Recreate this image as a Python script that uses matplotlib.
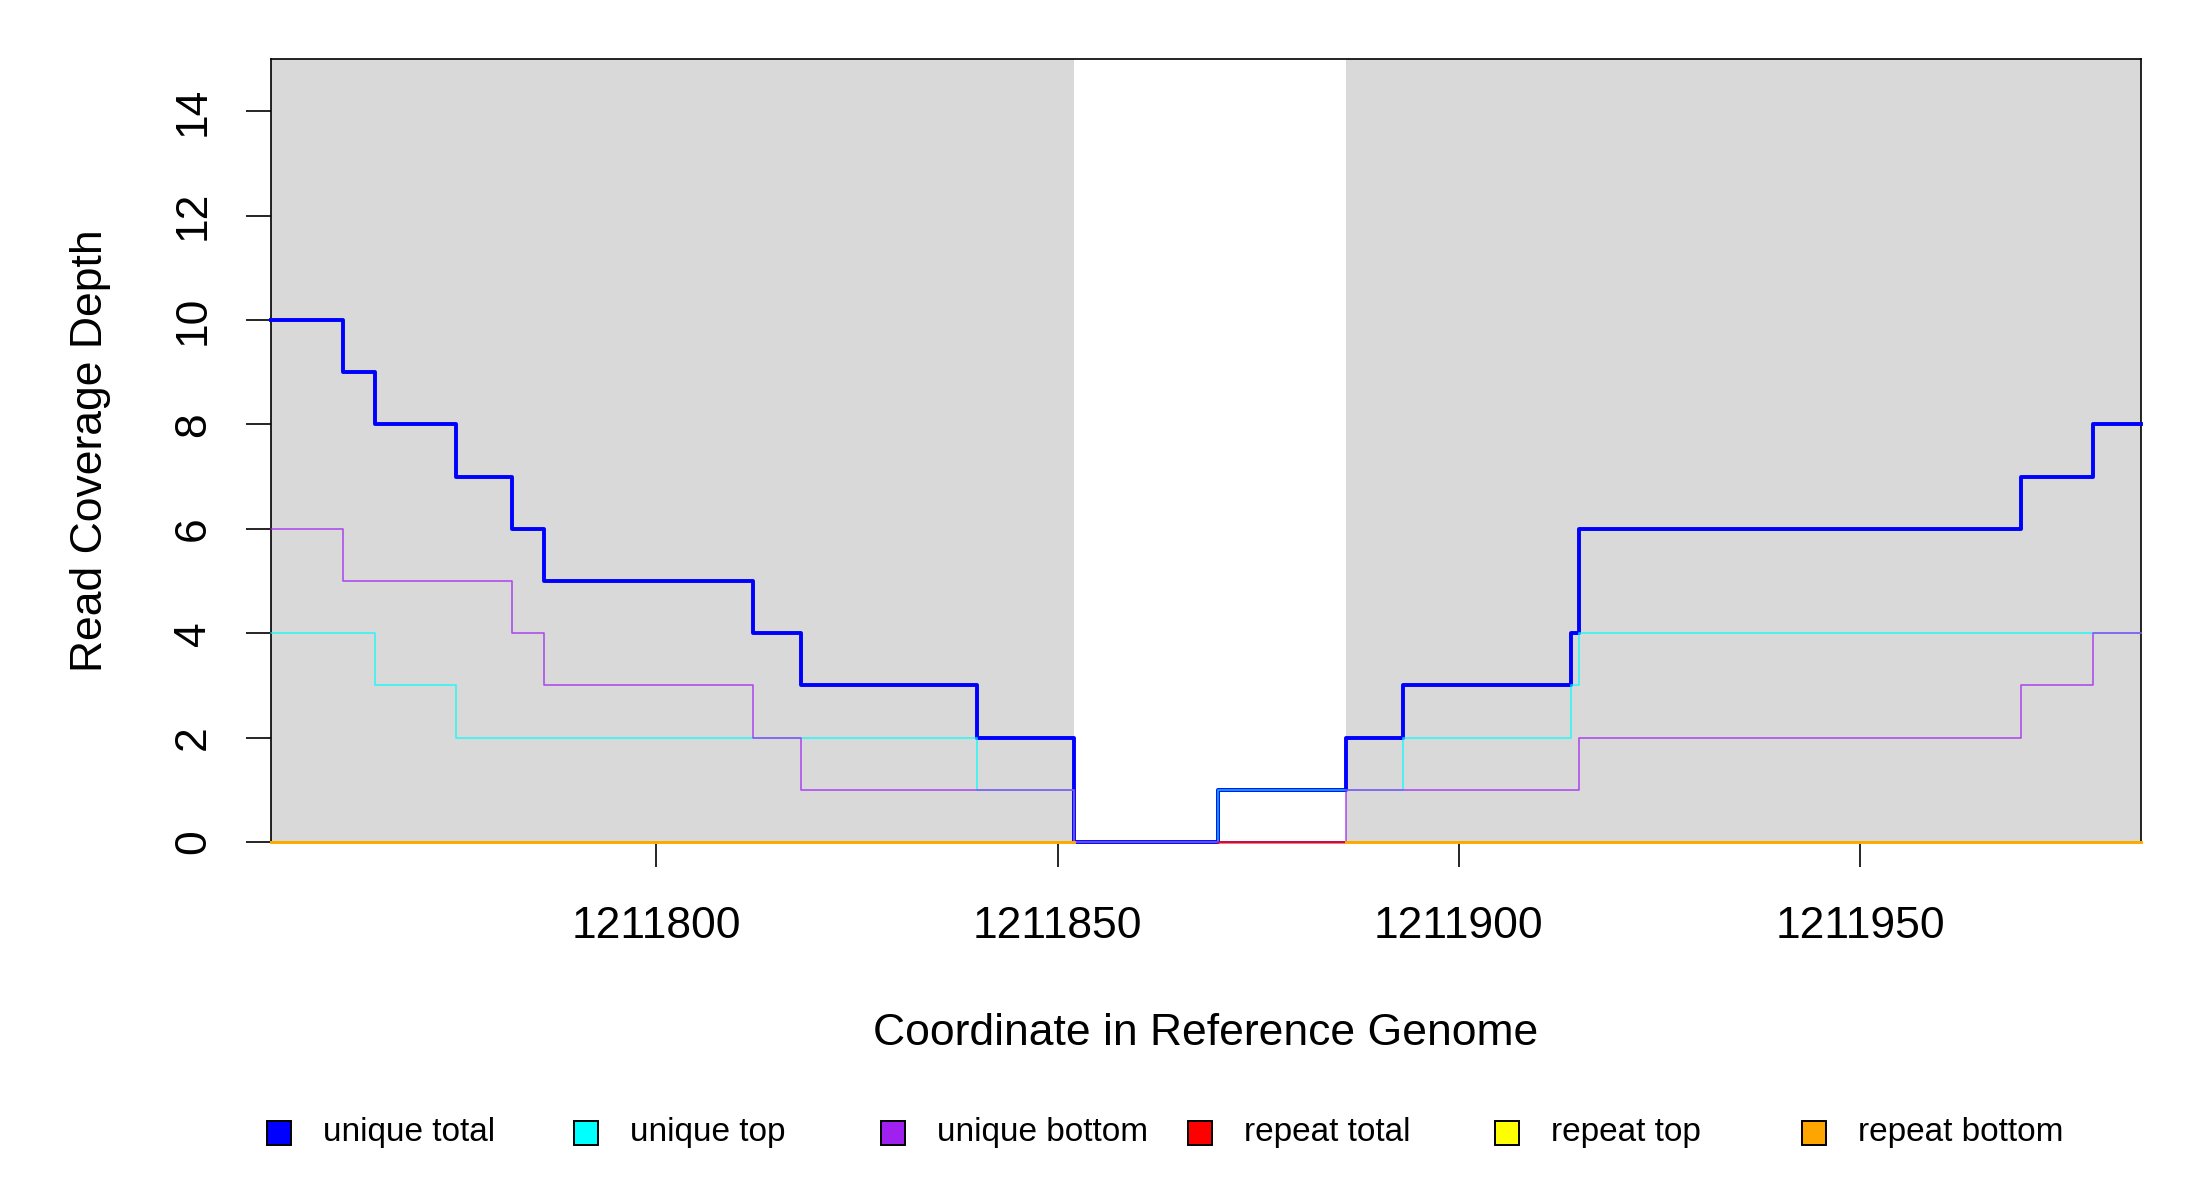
import numpy as np
import matplotlib.pyplot as plt
from matplotlib.patches import Rectangle

plt.rcParams['font.family'] = ['Liberation Sans', 'DejaVu Sans']

# step edges (genome coordinate) and coverage values per series
total_edges = [1211752, 1211761, 1211765, 1211775, 1211782, 1211786, 1211812, 1211818,
               1211840, 1211852, 1211870, 1211886, 1211893, 1211914, 1211915, 1211970,
               1211979, 1211985]
total_vals = [10, 9, 8, 7, 6, 5, 4, 3, 2, 0, 1, 2, 3, 4, 6, 7, 8]

top_edges = [1211752, 1211765, 1211775, 1211840, 1211852, 1211870, 1211893, 1211914,
             1211915, 1211985]
top_vals = [4, 3, 2, 1, 0, 1, 2, 3, 4]

bottom_edges = [1211752, 1211761, 1211782, 1211786, 1211812, 1211818, 1211852, 1211886,
                1211915, 1211970, 1211979, 1211985]
bottom_vals = [6, 5, 4, 3, 2, 1, 0, 1, 2, 3, 4]

rep_total_edges = [1211752, 1211852, 1211870, 1211985]
rep_total_vals = [0, np.nan, 0]
rep_strand_edges = [1211752, 1211852, 1211886, 1211985]
rep_top_vals = [0, np.nan, 0]
rep_bottom_vals = [0, np.nan, 0]

# shaded (gray) regions
regions = [(1211752, 1211852), (1211886, 1211985)]

labels = ['unique total', 'unique top', 'unique bottom',
          'repeat total', 'repeat top', 'repeat bottom']
colors = ['#0000FF', '#00FFFF', '#A020F0', '#FF0000', '#FFFF00', '#FFA500']

series = [(total_edges, total_vals), (top_edges, top_vals), (bottom_edges, bottom_vals),
          (rep_total_edges, rep_total_vals), (rep_strand_edges, rep_top_vals),
          (rep_strand_edges, rep_bottom_vals)]
widths = [1.4, 0.6, 0.6, 1.0, 1.0, 1.0]
alphas = [1.0, 0.75, 0.75, 0.6, 0.8, 0.9]

fig = plt.figure(figsize=(11, 6), dpi=200)
ax = fig.add_axes([0.1232, 0.2983, 0.85, 0.6525])

for a, b in regions:
    ax.axvspan(a, b, color='#D9D9D9', lw=0, zorder=0)

for (e, v), c, w, al in zip(series, colors, widths, alphas):
    ax.step(e, list(v) + [v[-1]], where='post', color=c, lw=w, alpha=al,
            zorder=6, clip_on=False)

ax.set_xlim(1211752, 1211985)
ax.set_ylim(0, 15)
ax.set_xticks([1211800, 1211850, 1211900, 1211950])
ax.set_xticklabels(['1211800', '1211850', '1211900', '1211950'])
ax.set_yticks(range(0, 15, 2))
ax.set_yticklabels([str(t) for t in range(0, 15, 2)], rotation=90, va='center')
ax.tick_params(axis='both', length=9, width=0.6, labelsize=16, direction='out')
ax.tick_params(axis='x', pad=14)
ax.tick_params(axis='y', pad=11.5)
for s in ax.spines.values():
    s.set_linewidth(0.6)
    s.set_zorder(5)

ax.set_xlabel('Coordinate in Reference Genome', fontsize=16)
ax.xaxis.set_label_coords(0.5, -0.218)
ax.set_ylabel('Read Coverage Depth', fontsize=16)
ax.yaxis.set_label_coords(-0.0856, 0.5)

# legend row below the axes
W, H = 2200, 1200
x0, step, y = 279, 307, 1133
sq = 24
for i, (lab, c) in enumerate(zip(labels, colors)):
    cx = x0 + i * step
    fig.patches.append(Rectangle(((cx - sq / 2) / W, 1 - (y + sq / 2) / H), sq / W, sq / H,
                                 transform=fig.transFigure, facecolor=c,
                                 edgecolor='black', lw=0.7))
    fig.text((cx + 44) / W, 1 - y / H, lab, fontsize=12, va='center', ha='left')

fig.savefig('out.png', dpi=200)
